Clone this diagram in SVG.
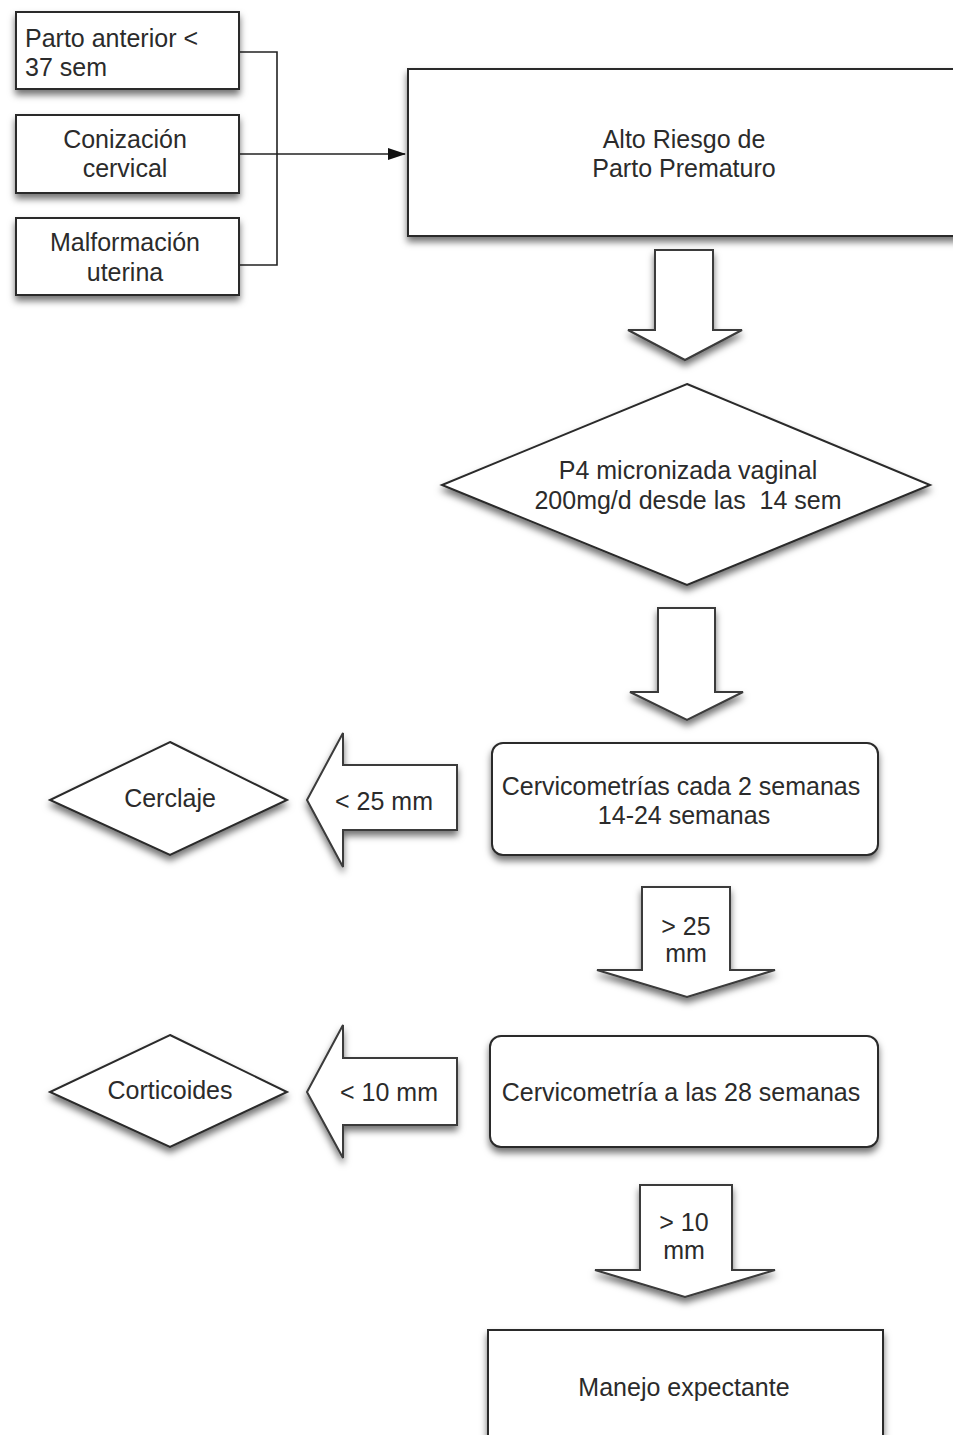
<svg xmlns="http://www.w3.org/2000/svg" width="953" height="1435" viewBox="0 0 953 1435">
<defs>
<filter id="sh" x="-20%" y="-20%" width="140%" height="150%">
<feDropShadow dx="0" dy="5" stdDeviation="3.5" flood-color="#000" flood-opacity="0.55"/>
</filter>
<marker id="ah" markerWidth="18" markerHeight="12" refX="17" refY="6" orient="auto" markerUnits="userSpaceOnUse">
<path d="M0,0 L18,6 L0,12 Z" fill="#111"/>
</marker>
</defs>
<style>
.box{fill:#fff;stroke:#2a2a2a;stroke-width:2;filter:url(#sh)}
.blk{fill:#fff;stroke:#3a3a3a;stroke-width:2;filter:url(#sh)}
.t{font-family:"Liberation Sans",Arial,sans-serif;font-size:25px;fill:#2b2b2b;text-anchor:middle}
.tl{font-family:"Liberation Sans",Arial,sans-serif;font-size:25px;fill:#2b2b2b}
.ln{fill:none;stroke:#222;stroke-width:1.6}
</style>
<rect width="953" height="1435" fill="#fff"/>

<g id="connectors">
<path class="ln" d="M239,52 H277 V265 H239"/>
<path class="ln" d="M239,154 H405" marker-end="url(#ah)"/>
<path class="blk" d="M655,250 H713 V330 H742 L685,360 L628,330 H655 Z"/>
<path class="blk" d="M658,608 H715 V692 H743 L687,720 L630,692 H658 Z"/>
<g id="arrow-gt25">
<path class="blk" d="M642,887 H730 V970 H775 L687,997 L597,970 H642 Z"/>
<text class="t" x="686" y="935">&gt; 25</text>
<text class="t" x="686" y="962">mm</text>
</g>
<g id="arrow-lt25">
<path class="blk" d="M457,765 V830 H343 V867 L307,800 L343,733 V765 Z"/>
<text class="t" x="384" y="810">&lt; 25 mm</text>
</g>
<g id="arrow-lt10">
<path class="blk" d="M457,1058 V1125 H343 V1158 L307,1092 L343,1025 V1058 Z"/>
<text class="t" x="389" y="1101">&lt; 10 mm</text>
</g>
<g id="arrow-gt10">
<path class="blk" d="M640,1185 H732 V1270 H775 L685,1297 L595,1270 H640 Z"/>
<text class="t" x="684" y="1231">&gt; 10</text>
<text class="t" x="684" y="1259">mm</text>
</g>
</g>

<g id="n-parto-anterior">
<rect class="box" x="16" y="12" width="223" height="77"/>
<text class="tl" x="25" y="47">Parto anterior &lt;</text>
<text class="tl" x="25" y="76">37 sem</text>
</g>
<g id="n-conizacion">
<rect class="box" x="16" y="115" width="223" height="78"/>
<text class="t" x="125" y="148">Conización</text>
<text class="t" x="125" y="177">cervical</text>
</g>
<g id="n-malformacion">
<rect class="box" x="16" y="218" width="223" height="77"/>
<text class="t" x="125" y="251">Malformación</text>
<text class="t" x="125" y="281">uterina</text>
</g>
<g id="n-alto-riesgo">
<rect class="box" x="408" y="69" width="560" height="167"/>
<text class="t" x="684" y="148">Alto Riesgo de</text>
<text class="t" x="684" y="177">Parto Prematuro</text>
</g>
<g id="n-p4">
<path class="box" d="M687,384 L930,485 L687,585 L442,485 Z"/>
<text class="t" x="688" y="479">P4 micronizada vaginal</text>
<text class="t" x="688" y="509" xml:space="preserve">200mg/d desde las  14 sem</text>
</g>
<g id="n-cervicometrias">
<rect class="box" x="492" y="743" width="386" height="112" rx="11"/>
<text class="t" x="681" y="795">Cervicometrías cada 2 semanas</text>
<text class="t" x="684" y="824">14-24 semanas</text>
</g>
<g id="n-cerclaje">
<path class="box" d="M170,742 L287,800 L170,855 L50,800 Z"/>
<text class="t" x="170" y="807">Cerclaje</text>
</g>
<g id="n-cervicometria28">
<rect class="box" x="490" y="1036" width="388" height="111" rx="11"/>
<text class="t" x="681" y="1101">Cervicometría a las 28 semanas</text>
</g>
<g id="n-corticoides">
<path class="box" d="M170,1035 L287,1092 L170,1147 L50,1092 Z"/>
<text class="t" x="170" y="1099">Corticoides</text>
</g>
<g id="n-manejo">
<rect class="box" x="488" y="1330" width="395" height="130"/>
<text class="t" x="684" y="1396">Manejo expectante</text>
</g>
</svg>
